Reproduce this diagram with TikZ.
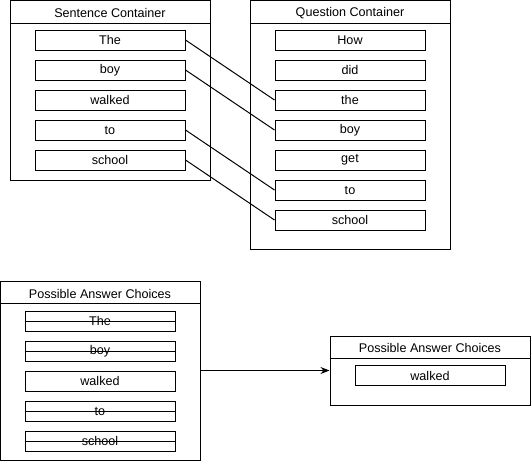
\documentclass[tikz,border=0pt]{standalone}
\usepackage{fontspec}
\setmainfont{Liberation Sans}
\usetikzlibrary{arrows.meta}
\begin{document}
\begin{tikzpicture}[x=1pt,y=-1pt,line width=1pt]
\tikzstyle{every node}+=[inner sep=0pt, font=\fontsize{12.6}{14}\selectfont]
\tikzstyle{cont}=[draw, minimum width=200]
\tikzstyle{word}=[draw, minimum width=150, minimum height=20]
\useasboundingbox (0,0) rectangle (531,461);
% containers
\node [cont, minimum height=180] (sent) at (110,90.5) {};
\node [cont, minimum height=249] (ques) at (350,125) {};
\node [cont, minimum height=179] (poss) at (100,370.5) {};
\node [cont, minimum height=69] (ans) at (430,370.5) {};
\draw (sent.north west) ++(0,23) -- ++(200,0);
\draw (ques.north west) ++(0,23) -- ++(200,0);
\draw (poss.north west) ++(0,23) -- ++(200,0);
\draw (ans.north west) ++(0,23) -- ++(200,0);
\node (sentT) at (110,13) {Sentence Container};
\node (quesT) at (350,13) {Question Container};
\node (possT) at (100,293.5) {Possible Answer Choices};
\node (ansT) at (430,348) {Possible Answer Choices};
% words
\foreach \w [count=\i] in {The,boy,walked,to,school}
  \node [word] (s\i) at (110,{10+30*\i}) {\w};
\foreach \w [count=\i] in {How,did,the,boy,get,to,school}
  \node [word] (q\i) at (350,{10+30*\i}) {\w};
\foreach \w [count=\i] in {The,boy,walked,to,school}
  \node [word] (p\i) at (100,{291+30*\i}) {\w};
\foreach \i in {1,2,4,5}
  \draw (p\i.west) -- (p\i.east);
\node [word] (a1) at (430,375.5) {walked};
% links
\draw (s1.east) -- (q3.west);
\draw (s2.east) -- (q4.west);
\draw (s4.east) -- (q6.west);
\draw (s5.east) -- (q7.west);
\draw [-{Stealth[length=9pt,width=7pt]}] (poss.east) -- (ans.west);
\end{tikzpicture}
\end{document}
